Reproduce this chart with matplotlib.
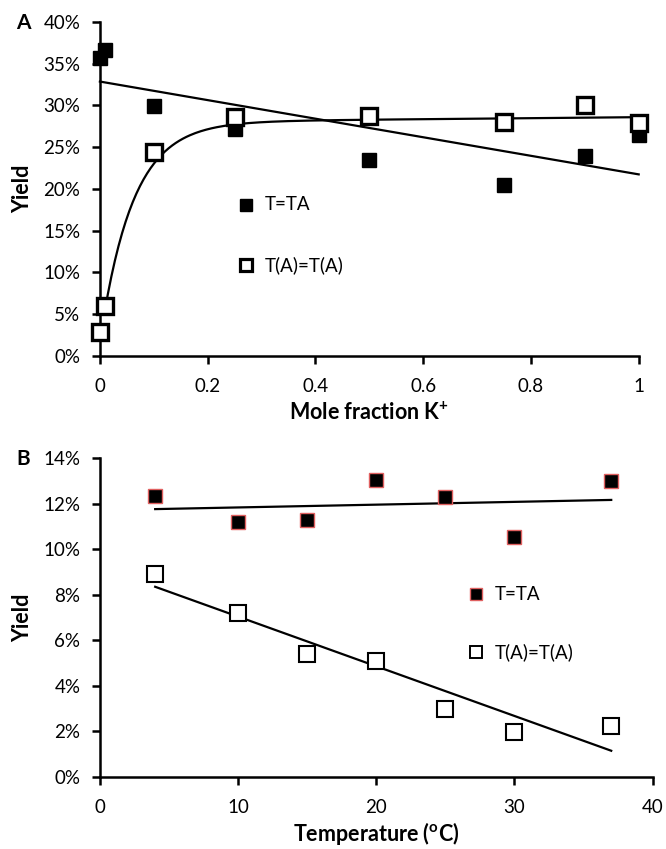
import numpy as np
import matplotlib
matplotlib.use("Agg")
import matplotlib.pyplot as plt
from matplotlib.ticker import PercentFormatter

plt.rcParams['font.family'] = ['Lato', 'DejaVu Sans']
plt.rcParams['mathtext.fontset'] = 'custom'
plt.rcParams['mathtext.rm'] = 'Lato'
plt.rcParams['mathtext.bf'] = 'Lato:bold'

# Panel A data (yield in %)
mole_fraction = [0, 0.01, 0.1, 0.25, 0.5, 0.75, 0.9, 1.0]
a_t_ta = [35.7, 36.6, 29.9, 27.2, 23.5, 20.5, 24.0, 26.5]
a_ta_ta = [2.9, 6.0, 24.4, 28.6, 28.7, 28.0, 30.0, 27.9]
# saturating fit for T(A)=T(A): y = c + d*x - B*exp(-k*x)
fit_c, fit_d, fit_B, fit_k = 28.0, 0.6, 26.3, 16.5

# Panel B data (yield in %)
temperature = [4, 10, 15, 20, 25, 30, 37]
b_t_ta = [12.36, 11.21, 11.29, 13.03, 12.30, 10.55, 13.0]
b_ta_ta = [8.9, 7.2, 5.4, 5.07, 2.99, 1.97, 2.23]

TICK_FS = 13.5
LEG_FS = 13.5
LAB_FS = 15.5

fig = plt.figure(figsize=(6.66, 8.49), dpi=100)
axA = fig.add_axes([0.150, 0.581, 0.809, 0.393])
axB = fig.add_axes([0.150, 0.0852, 0.830, 0.375])

def style(ax):
    for s in ['top', 'right']:
        ax.spines[s].set_visible(False)
    for s in ['left', 'bottom']:
        ax.spines[s].set_linewidth(1.8)
    ax.tick_params(axis='both', direction='out', length=6, width=1.8, labelsize=TICK_FS)
    ax.tick_params(axis='y', pad=8)
    ax.tick_params(axis='x', pad=10)

# Panel A
style(axA)
xa = np.array(mole_fraction)
pa = np.polyfit(xa, a_t_ta, 1)
axA.plot([0, 1], np.polyval(pa, [0, 1]), color='black', lw=1.6, zorder=2, clip_on=False)
xc = np.linspace(0.008, 1.0, 300)
axA.plot(xc, fit_c + fit_d * xc - fit_B * np.exp(-fit_k * xc), color='black', lw=1.6, zorder=2, clip_on=False)
axA.plot(xa, a_t_ta, ls='none', marker='s', ms=9.5, mfc='black', mec='black', zorder=3, clip_on=False)
axA.plot(xa, a_ta_ta, ls='none', marker='s', ms=11.5, mfc='white', mec='black', mew=2.4, zorder=4, clip_on=False)
axA.set_xlim(0, 1)
axA.set_ylim(0, 40)
axA.set_xticks([0, 0.2, 0.4, 0.6, 0.8, 1.0])
axA.set_xticklabels(['0', '0.2', '0.4', '0.6', '0.8', '1'])
axA.set_yticks(np.arange(0, 41, 5))
axA.yaxis.set_major_formatter(PercentFormatter(decimals=0))
axA.set_ylabel('Yield', fontsize=LAB_FS, fontweight='bold')
axA.yaxis.set_label_coords(-0.124, 0.5)
axA.set_xlabel('Mole fraction K$^{\\mathbf{+}}$', fontsize=LAB_FS, fontweight='bold', va='top')
axA.xaxis.set_label_coords(0.5, -0.138)
# legend A
axA.plot([0.272], [18.1], ls='none', marker='s', ms=8.5, mfc='black', mec='black', clip_on=False)
axA.text(0.306, 18.1, 'T=TA', fontsize=LEG_FS, va='center', ha='left')
axA.plot([0.272], [10.9], ls='none', marker='s', ms=9.0, mfc='white', mec='black', mew=2.3, clip_on=False)
axA.text(0.306, 10.9, 'T(A)=T(A)', fontsize=LEG_FS, va='center', ha='left')
fig.text(23 / 666, 1 - 23 / 849, 'A', fontsize=15, fontweight='bold', ha='center', va='center')

# Panel B
style(axB)
xb = np.array(temperature)
pb1 = np.polyfit(xb, b_t_ta, 1)
pb2 = np.polyfit(xb, b_ta_ta, 1)
axB.plot([4, 37], np.polyval(pb1, [4, 37]), color='black', lw=1.6, zorder=2)
axB.plot([4, 37], np.polyval(pb2, [4, 37]), color='black', lw=1.6, zorder=2)
axB.plot(xb, b_t_ta, ls='none', marker='s', ms=10, mfc='black', mec='#e06060', mew=1.0, zorder=3)
axB.plot(xb, b_ta_ta, ls='none', marker='s', ms=11, mfc='white', mec='black', mew=1.5, zorder=4)
axB.set_xlim(0, 40)
axB.set_ylim(0, 14)
axB.set_xticks([0, 10, 20, 30, 40])
axB.set_yticks(np.arange(0, 15, 2))
axB.yaxis.set_major_formatter(PercentFormatter(decimals=0))
axB.set_ylabel('Yield', fontsize=LAB_FS, fontweight='bold')
axB.yaxis.set_label_coords(-0.121, 0.5)
axB.set_xlabel('Temperature ($^{\\mathbf{o}}$C)', fontsize=LAB_FS, fontweight='bold', va='top')
axB.xaxis.set_label_coords(0.5, -0.135)
axB.plot([27.2], [8.03], ls='none', marker='s', ms=9, mfc='black', mec='#e06060', mew=1.0, clip_on=False)
axB.text(28.6, 8.03, 'T=TA', fontsize=LEG_FS, va='center', ha='left')
axB.plot([27.2], [5.48], ls='none', marker='s', ms=9, mfc='white', mec='black', mew=1.4, clip_on=False)
axB.text(28.6, 5.48, 'T(A)=T(A)', fontsize=LEG_FS, va='center', ha='left')
fig.text(23 / 666, 1 - 459 / 849, 'B', fontsize=15, fontweight='bold', ha='center', va='center')

fig.savefig('out.png', dpi=100)
